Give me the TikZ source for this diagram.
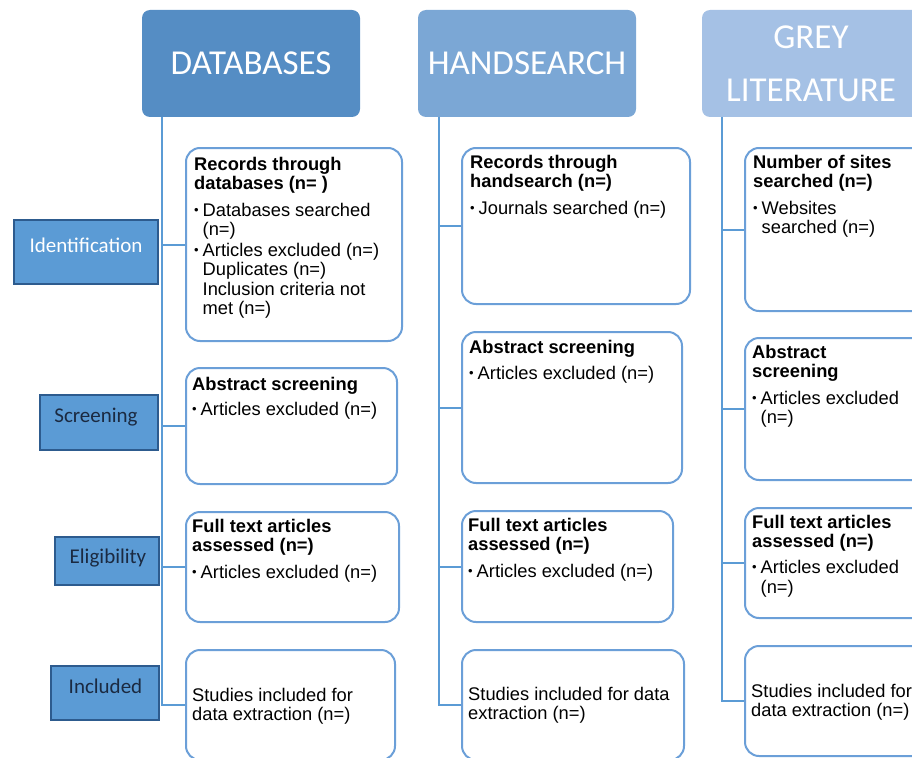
\documentclass[tikz,border=0pt]{standalone}
\usepackage{fontspec}
\setmainfont{Liberation Sans}
\newfontfamily\calib{Carlito}
\definecolor{hdrA}{HTML}{558DC4}
\definecolor{hdrB}{HTML}{7BA7D5}
\definecolor{hdrC}{HTML}{A5C1E5}
\definecolor{stagefill}{HTML}{5B9BD5}
\definecolor{stagedraw}{HTML}{2D5B8E}
\definecolor{stagetext}{HTML}{1B2A41}
\definecolor{boxline}{HTML}{6B9FD8}
\definecolor{connline}{HTML}{5B9BD5}
\newcommand{\bulit}{\makebox[8.5pt][l]{\raisebox{2pt}{\fontsize{13}{13}\selectfont •}}}
\newcommand{\indt}{\hspace*{8.5pt}}
\newcommand{\fstrut}{\rule{0pt}{14pt}}
\tikzset{
  hdr/.style={rounded corners=8pt, inner sep=0pt, text=white, align=center,
    minimum width=218, minimum height=107, font=\calib\fontsize{35}{53}\selectfont},
  stagebox/.style={fill=stagefill, draw=stagedraw, line width=2pt, inner sep=0pt},
  stagetxt/.style={inner sep=0pt, font=\calib\fontsize{21}{24}\selectfont, text=stagetext},
  cbox/.style={draw=boxline, line width=2pt, rounded corners=14pt, fill=white,
    inner sep=0pt, anchor=north west},
  ctxt/.style={anchor=north west, inner sep=0pt, align=left,
    font=\fontsize{18.3}{19.3}\selectfont},
  conn/.style={draw=connline, line width=2pt}
}
\begin{document}
\begin{tikzpicture}[x=1pt,y=-1pt]
\path[use as bounding box] (0,0) rectangle (912,757);
\clip (0,0) rectangle (912,757);

% headers
\node[hdr, fill=hdrA] (h1) at (251,63.5) {DATABASES};
\node[hdr, fill=hdrB] (h2) at (527,63.5) {HANDSEARCH};
\node[hdr, fill=hdrC] (h3) at (811,63.5) {GREY\\LITERATURE};

% stage boxes
\node[stagebox, minimum width=144, minimum height=64] (st1) at (86,252) {};
\node[stagetxt, text=white] (st1t) at (86,245) {Identification};
\node[stagebox, minimum width=118, minimum height=55] (st2) at (99,422.5) {};
\node[stagetxt] (st2t) at (96,417) {Screening};
\node[stagebox, minimum width=104, minimum height=48] (st3) at (107,561) {};
\node[stagetxt] (st3t) at (108,558) {Eligibility};
\node[stagebox, minimum width=108, minimum height=54] (st4) at (105,693) {};
\node[stagetxt] (st4t) at (105.5,686) {Included};

% column 1 boxes
\node[cbox, minimum width=216, minimum height=193] (r1) at (185,147) {};
\node[cbox, minimum width=211, minimum height=116] (a1) at (185,367) {};
\node[cbox, minimum width=213, minimum height=110] (f1) at (185,511) {};
\node[cbox, minimum width=209, minimum height=110] (s1) at (185,649) {};
% column 2 boxes
\node[cbox, minimum width=228, minimum height=156] (r2) at (461,147) {};
\node[cbox, minimum width=220, minimum height=151] (a2) at (461,331) {};
\node[cbox, minimum width=211, minimum height=111] (f2) at (461,510) {};
\node[cbox, minimum width=222, minimum height=110] (s2) at (461,649) {};
% column 3 boxes
\node[cbox, minimum width=220, minimum height=163] (r3) at (744,147) {};
\node[cbox, minimum width=220, minimum height=142] (a3) at (744,337) {};
\node[cbox, minimum width=220, minimum height=110] (f3) at (744,507) {};
\node[cbox, minimum width=220, minimum height=110] (s3) at (744,645) {};

% connectors
\coordinate (v1) at (162,117);
\coordinate (v2) at (439,117);
\coordinate (v3) at (722,117);
\draw[conn] (v1) |- (s1.west);
\draw[conn] (v2) |- (s2.west);
\draw[conn] (v3) |- (s3.west);
\foreach \b in {r1,a1,f1} {\draw[conn] (\b.west -| v1) -- (\b.west);}
\foreach \b in {r2,a2,f2} {\draw[conn] (\b.west -| v2) -- (\b.west);}
\foreach \b in {r3,a3,f3} {\draw[conn] (\b.west -| v3) -- (\b.west);}

% column 1 texts
\node[ctxt] (r1t) at (194,156) {\fstrut\textbf{Records through}\\\textbf{databases (n= )}\\[7.5pt]
  \bulit Databases searched\\\indt(n=)\\[1.5pt]\bulit Articles excluded (n=)\\\indt Duplicates (n=)\\
  \indt Inclusion criteria not\\\indt met (n=)};
\node[ctxt] (a1t) at (192,376) {\fstrut\textbf{Abstract screening}\\[5.7pt]\bulit Articles excluded (n=)};
\node[ctxt] (f1t) at (192,518) {\fstrut\textbf{Full text articles}\\\textbf{assessed (n=)}\\[7.5pt]\bulit Articles excluded (n=)};
\node[ctxt] (s1t) at (192,687) {\fstrut Studies included for\\data extraction (n=)};

% column 2 texts
\node[ctxt] (r2t) at (470,154) {\fstrut\textbf{Records through}\\\textbf{handsearch (n=)}\\[7.5pt]\bulit Journals searched (n=)};
\node[ctxt] (a2t) at (469,339) {\fstrut\textbf{Abstract screening}\\[6.5pt]\bulit Articles excluded (n=)};
\node[ctxt] (f2t) at (468,517) {\fstrut\textbf{Full text articles}\\\textbf{assessed (n=)}\\[7.5pt]\bulit Articles excluded (n=)};
\node[ctxt] (s2t) at (468,686) {\fstrut Studies included for data\\extraction (n=)};

% column 3 texts
\node[ctxt] (r3t) at (753,154) {\fstrut\textbf{Number of sites}\\\textbf{searched (n=)}\\[7.5pt]\bulit Websites\\\indt searched (n=)};
\node[ctxt] (a3t) at (752,344) {\fstrut\textbf{Abstract}\\\textbf{screening}\\[7.5pt]\bulit Articles excluded\\\indt(n=)};
\node[ctxt] (f3t) at (752,514) {\fstrut\textbf{Full text articles}\\\textbf{assessed (n=)}\\[7pt]\bulit Articles excluded\\\indt(n=)};
\node[ctxt] (s3t) at (751,683) {\fstrut Studies included for\\data extraction (n=)};
\end{tikzpicture}
\end{document}
